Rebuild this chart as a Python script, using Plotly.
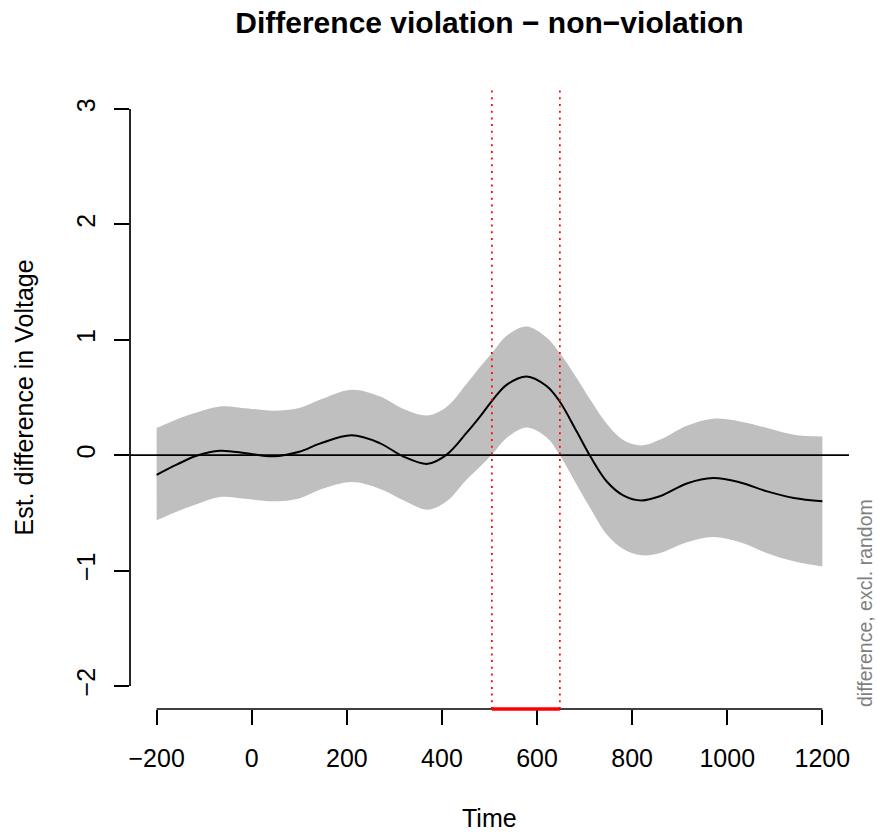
import plotly.graph_objects as go

# Time points (ms) at which the smooth difference was evaluated
time = [-200, -158, -116, -67, -8, 45, 100, 143, 210, 269, 319, 370, 410, 452,
        480, 507, 536, 578, 620, 647, 684, 712, 747, 782, 820, 859, 915, 970,
        1027, 1084, 1140, 1200]

# Estimated difference (violation - non-violation)
est = [-0.170, -0.082, -0.005, 0.039, 0.014, -0.010, 0.030, 0.100, 0.172,
       0.105, -0.012, -0.075, 0.005, 0.195, 0.335, 0.480, 0.610, 0.683, 0.600,
       0.470, 0.200, -0.010, -0.230, -0.350, -0.392, -0.355, -0.245, -0.198,
       -0.236, -0.314, -0.371, -0.400]

# 95% confidence band
upper = [0.236, 0.310, 0.370, 0.423, 0.405, 0.386, 0.410, 0.480, 0.568, 0.510,
         0.400, 0.345, 0.420, 0.620, 0.765, 0.895, 1.035, 1.116, 1.020, 0.890,
         0.665, 0.480, 0.270, 0.130, 0.085, 0.135, 0.255, 0.316, 0.293, 0.236,
         0.178, 0.163]
lower = [-0.565, -0.490, -0.425, -0.362, -0.380, -0.400, -0.375, -0.300,
         -0.232, -0.290, -0.390, -0.472, -0.400, -0.210, -0.100, 0.015, 0.150,
         0.241, 0.155, 0.005, -0.260, -0.460, -0.690, -0.815, -0.868, -0.848,
         -0.755, -0.709, -0.755, -0.850, -0.920, -0.964]

# Window where the difference is significant
sig_start, sig_end = 505, 648

x_ticks = [-200, 0, 200, 400, 600, 800, 1000, 1200]
x_ticktext = ["\u2212200", "0", "200", "400", "600", "800", "1000", "1200"]
y_ticks = [-2, -1, 0, 1, 2, 3]
y_ticktext = ["\u22122", "\u22121", "0", "1", "2", "3"]

FONT = "Liberation Sans, Arial, Helvetica, sans-serif"
LW = 1.7

fig = go.Figure()

# Confidence band
fig.add_trace(go.Scatter(x=time, y=lower, mode="lines",
                         line=dict(width=0, shape="spline", smoothing=1.0),
                         hoverinfo="skip", showlegend=False))
fig.add_trace(go.Scatter(x=time, y=upper, mode="lines", fill="tonexty",
                         fillcolor="#BFBFBF",
                         line=dict(width=0, shape="spline", smoothing=1.0),
                         hoverinfo="skip", showlegend=False))
# Estimate
fig.add_trace(go.Scatter(x=time, y=est, mode="lines",
                         line=dict(color="black", width=2, shape="spline",
                                   smoothing=1.0),
                         showlegend=False))

shapes = [
    # zero reference line across the full plotting region
    dict(type="line", xref="paper", yref="y", x0=0, x1=1, y0=0, y1=0,
         line=dict(color="black", width=1.8), layer="above"),
    # axis lines spanning first to last tick
    dict(type="line", xref="x", yref="paper", x0=x_ticks[0], x1=x_ticks[-1],
         y0=0, y1=0, line=dict(color="black", width=LW), layer="above"),
    dict(type="line", xref="paper", yref="y", x0=0, x1=0,
         y0=y_ticks[0], y1=y_ticks[-1], line=dict(color="black", width=LW),
         layer="above"),
]
# significance window boundaries
for xv in (sig_start, sig_end):
    shapes.append(dict(type="line", xref="x", yref="paper", x0=xv, x1=xv,
                       y0=0, y1=1, layer="above",
                       line=dict(color="red", width=1.7, dash="2px,4.7px")))
# significance bar on the bottom edge
shapes.append(dict(type="line", xref="x", yref="paper", x0=sig_start,
                   x1=sig_end, y0=0, y1=0, layer="above",
                   line=dict(color="red", width=3.5)))

annotations = [
    dict(text="Time", xref="paper", yref="paper", x=0.5, y=0,
         xanchor="center", yanchor="middle", yshift=-109, showarrow=False,
         font=dict(size=25, color="black", family=FONT)),
    dict(text="Est. difference in Voltage", xref="paper", yref="paper",
         x=0, y=0.5, xanchor="center", yanchor="middle", xshift=-107,
         textangle=-90, showarrow=False,
         font=dict(size=25, color="black", family=FONT)),
    dict(text="difference, excl. random", xref="paper", yref="paper",
         x=1, y=0, xanchor="center", yanchor="bottom", xshift=16,
         textangle=-90, showarrow=False,
         font=dict(size=19.5, color="#7F7F7F", family=FONT)),
]

fig.update_layout(
    width=877, height=834,
    margin=dict(l=130, r=28, t=86, b=125),
    paper_bgcolor="white", plot_bgcolor="white",
    font=dict(family=FONT, size=25, color="black"),
    title=dict(text="<b>Difference violation \u2212 non\u2212violation</b>",
               x=0.5, xref="paper", y=1 - 22 / 834, yref="container",
               xanchor="center", yanchor="middle",
               font=dict(size=30, family=FONT, color="black")),
    shapes=shapes,
    annotations=annotations,
    showlegend=False,
)

fig.update_xaxes(range=[-256, 1256], showgrid=False, zeroline=False,
                 showline=False, tickmode="array", tickvals=x_ticks,
                 ticktext=x_ticktext, ticks="outside", ticklen=15,
                 tickwidth=LW, tickcolor="black", ticklabelstandoff=12,
                 tickfont=dict(size=25, family=FONT, color="black"))
fig.update_yaxes(range=[-2.2, 3.2], showgrid=False, zeroline=False,
                 showline=False, tickmode="array", tickvals=y_ticks,
                 ticktext=y_ticktext, ticks="outside", ticklen=15,
                 tickwidth=LW, tickcolor="black", tickangle=-90,
                 ticklabelstandoff=9,
                 tickfont=dict(size=25, family=FONT, color="black"))

fig.write_html("out.html")
